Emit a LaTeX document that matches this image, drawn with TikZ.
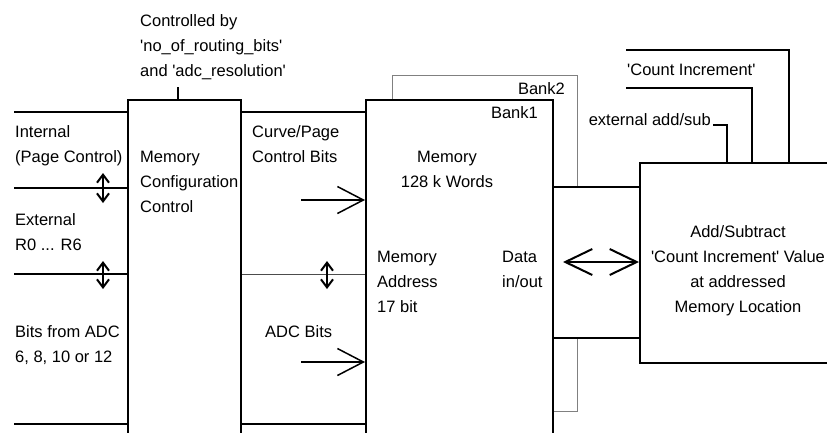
\documentclass[tikz,border=0pt]{standalone}
\usepackage{fontspec}
\setmainfont{Liberation Sans}
\usetikzlibrary{arrows.meta,positioning}
\newcommand{\squote}{\textquotesingle}

\begin{document}
\begin{tikzpicture}[x=1pt, y=-1pt,
  blk/.style={draw, line width=2pt, fill=white, rectangle, anchor=north west, inner sep=0pt},
  bank/.style={draw=gray, line width=1pt, rectangle, anchor=north west, inner sep=0pt},
  bus/.style={line width=2pt},
  thinbus/.style={line width=1pt, black!70},
  txt/.style={font=\fontsize{16.5}{25}\selectfont, inner sep=0pt, anchor=base west, align=left},
  ctxt/.style={txt, anchor=base, align=center},
  ar/.style={line width=1.5pt, -{Straight Barb[length=26pt, width=27pt]}},
  dar/.style={line width=2pt, {Straight Barb[length=8pt, width=12pt]}-{Straight Barb[length=8pt, width=12pt]}},
  bigdar/.style={line width=2pt, {Straight Barb[length=27pt, width=26pt]}-{Straight Barb[length=27pt, width=26pt]}}]
  \useasboundingbox (0,0) rectangle (827,432);
  \clip (0,0) rectangle (827,432);

  % blocks
  \node[blk, minimum width=113pt, minimum height=350pt] (cfg) at (127,99) {};
  \node[bank, minimum width=185pt, minimum height=336pt] (bank2) at (392,75) {};
  \node[blk, minimum width=187pt, minimum height=350pt] (bank1) at (365,99) {};
  \node[blk, minimum width=87pt, minimum height=151pt] (dbus) at (552,186) {};
  \node[blk, minimum width=220pt, minimum height=200pt] (addsub) at (639,162) {};

  % bus lines
  \coordinate (in1) at (14,112);
  \coordinate (in2) at (14,188);
  \coordinate (in3) at (14,274);
  \coordinate (in4) at (14,424);
  \draw[bus] (in1) -- (in1 -| cfg.west);
  \draw[bus] (in2) -- (in2 -| cfg.west);
  \draw[bus] (in3) -- (in3 -| cfg.west);
  \draw[bus] (in4) -- (in4 -| cfg.west);
  \draw[bus] (cfg.east |- in1) -- (bank1.west |- in1);
  \draw[thinbus] (cfg.east |- in3) -- (bank1.west |- in3);
  \draw[bus] (cfg.east |- in4) -- (bank1.west |- in4);

  \coordinate (ctl) at (178,87);
  \draw[bus] (ctl) -- (ctl |- cfg.north);

  \coordinate (ext) at (713,125);
  \coordinate (ci) at (626,88);
  \coordinate (top) at (626,50);
  \draw[bus] (ext) -| ([xshift=88pt]addsub.north west);
  \draw[bus] (ci) -| ([xshift=113pt]addsub.north west);
  \draw[bus] (top) -| ([xshift=150pt]addsub.north west);

  % texts (multi-line nodes sit on their last baseline)
  \node[txt] (ctrl) at (140,76) {Controlled by\\\squote no\_of\_routing\_bits\squote\\and \squote adc\_resolution\squote};
  \node[txt] (intl) at (15,162) {Internal\\(Page Control)};
  \node[txt] (extl) at (15,250) {External\\R0 ... R6};
  \node[txt] (adcl) at (15,362) {Bits from ADC\\6, 8, 10 or 12};
  \node[txt] (cfgl) at ([shift={(13,113)}]cfg.north west) {Memory\\Configuration\\Control};
  \node[txt] (curve) at (252,162) {Curve/Page\\Control Bits};
  \node[txt] (adcb) at (265,337) {ADC Bits};
  \node[ctxt] (meml) at (447,187) {Memory\\128 k Words};
  \node[txt] (addr) at (377,312) {Memory\\Address\\17 bit};
  \node[txt] (data) at (502,287) {Data\\in/out};
  \node[txt, anchor=base east] (b1) at (538,118) {Bank1};
  \node[txt, anchor=base east] (b2) at (565,94) {Bank2};
  \node[txt] (cinc) at (627,75) {\squote Count Increment\squote};
  \node[txt, anchor=base east] (extas) at (711,125) {external add/sub};
  \node[ctxt] (asl) at (738,312) {Add/Subtract\\\squote Count Increment\squote{} Value\\at addressed\\Memory Location};

  % arrows
  \draw[ar] (301,200) -- (bank1.west |- 0,200);
  \draw[ar] (301,362) -- (bank1.west |- 0,362);
  \draw[dar] (103,173) -- (103,203);
  \draw[dar] (103,261) -- (103,289);
  \draw[dar] (327,261) -- (327,289);
  \draw[bigdar] (563,262) -- (addsub.west |- 0,262);
\end{tikzpicture}
\end{document}
